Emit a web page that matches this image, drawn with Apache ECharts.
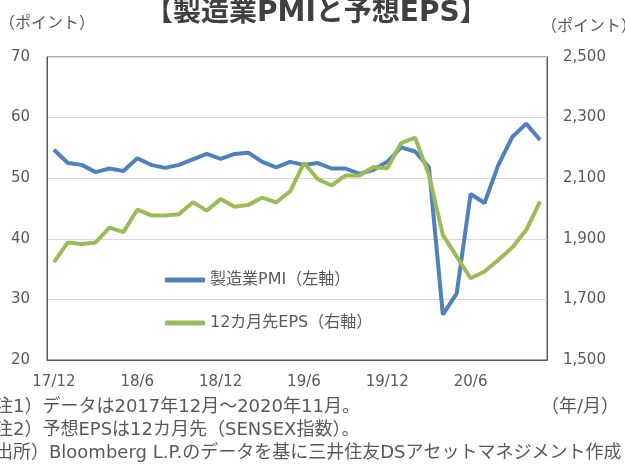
<!DOCTYPE html>
<html lang="ja">
<head>
  <meta charset="UTF-8">
  <title>製造業PMIと予想EPS</title>
  <style>
    html, body { margin: 0; padding: 0; background: #fff; }
    #chart { width: 625px; height: 465px; }
  </style>
</head>
<body>
  <div id="chart"></div>
  <script src="https://cdn.jsdelivr.net/npm/echarts@6/dist/echarts.min.js"></script>
  <script>
    // 月次データ 2017/12～2020/11
    var months = [
      '17/12', '18/1', '18/2', '18/3', '18/4', '18/5', '18/6', '18/7', '18/8', '18/9', '18/10', '18/11',
      '18/12', '19/1', '19/2', '19/3', '19/4', '19/5', '19/6', '19/7', '19/8', '19/9', '19/10', '19/11',
      '19/12', '20/1', '20/2', '20/3', '20/4', '20/5', '20/6', '20/7', '20/8', '20/9', '20/10', '20/11'
    ];
    // 製造業PMI（左軸）
    var pmi = [
      54.7, 52.5, 52.2, 51.0, 51.6, 51.2, 53.3, 52.2, 51.7, 52.2, 53.1, 54.0,
      53.2, 54.0, 54.2, 52.7, 51.8, 52.7, 52.2, 52.5, 51.6, 51.6, 50.7, 51.4,
      52.7, 55.1, 54.4, 51.8, 27.5, 31.0, 47.4, 45.9, 52.2, 56.8, 59.0, 56.3
    ];
    // 12カ月先EPS（右軸）
    var eps = [
      1823, 1888, 1883, 1888, 1937, 1922, 1996, 1977, 1977, 1981, 2021, 1993,
      2031, 2006, 2012, 2036, 2020, 2056, 2150, 2097, 2076, 2109, 2109, 2137,
      2133, 2216, 2234, 2111, 1913, 1841, 1770, 1792, 1830, 1871, 1929, 2023
    ];
    var notes = [
      '注1）データは2017年12月～2020年11月。',
      '注2）予想EPSは12カ月先（SENSEX指数）。',
      '出所）Bloomberg L.P.のデータを基に三井住友DSアセットマネジメント作成'
    ];

    var font = '"DejaVu Sans", "Noto Sans CJK JP"';
    var noteFont = '18px "DejaVu Sans", "Noto Sans CJK JP"';
    var grey = '#595959';

    var option = {
      animation: false,
      textStyle: { fontFamily: font },
      title: {
        text: '【製造業PMIと予想EPS】',
        left: 140,
        top: -5,
        textStyle: { fontSize: 28, fontWeight: 'bold', color: '#404040', fontFamily: font }
      },
      legend: {
        orient: 'vertical',
        left: 160,
        top: 265,
        itemWidth: 40,
        itemHeight: 5,
        itemGap: 23,
        icon: 'roundRect',
        textStyle: { fontSize: 16, lineHeight: 20, color: grey, fontFamily: font }
      },
      grid: {
        left: 47, right: 78, top: 57, bottom: 105,
        containLabel: false,
        outerBoundsMode: 'none',
        show: true, borderColor: grey, borderWidth: 1
      },
      xAxis: {
        type: 'category',
        data: months,
        boundaryGap: true,
        axisLine: { lineStyle: { color: grey } },
        axisTick: { inside: true, length: 5, interval: 5, lineStyle: { color: grey } },
        axisLabel: { interval: 5, margin: 15, fontSize: 15, color: grey, fontFamily: font }
      },
      yAxis: [
        {
          type: 'value', min: 20, max: 70, interval: 10,
          name: '（ポイント）', nameLocation: 'end', nameGap: 25,
          nameTextStyle: { fontSize: 16, color: grey, align: 'center', fontFamily: font },
          axisLine: { show: true, lineStyle: { color: grey } },
          axisLabel: { margin: 17, fontSize: 15, color: grey, fontFamily: font },
          splitLine: { lineStyle: { color: '#d9d9d9' } }
        },
        {
          type: 'value', min: 1500, max: 2500, interval: 200,
          name: '（ポイント）', nameLocation: 'end', nameGap: 22,
          nameTextStyle: { fontSize: 16, color: grey, align: 'left', padding: [0, 0, 0, -6], fontFamily: font },
          axisLine: { show: true, lineStyle: { color: grey } },
          axisLabel: {
            margin: 16, fontSize: 15, color: grey, fontFamily: font,
            formatter: function (v) { return v.toLocaleString('en-US'); }
          },
          splitLine: { show: false }
        }
      ],
      series: [
        {
          name: '製造業PMI（左軸）',
          type: 'line',
          yAxisIndex: 0,
          data: pmi,
          symbol: 'none',
          color: '#4f81bd',
          lineStyle: { width: 4, color: '#4f81bd' }
        },
        {
          name: '12カ月先EPS（右軸）',
          type: 'line',
          yAxisIndex: 1,
          data: eps,
          symbol: 'none',
          color: '#9bbb59',
          lineStyle: { width: 4, color: '#9bbb59' }
        }
      ],
      graphic: [
        { type: 'text', left: -5, top: 398, style: { text: notes[0], font: noteFont, fill: grey } },
        { type: 'text', left: -5, top: 421, style: { text: notes[1], font: noteFont, fill: grey } },
        { type: 'text', left: -5, top: 444, style: { text: notes[2], font: noteFont, fill: grey } },
        { type: 'text', right: 6, top: 398, style: { text: '（年/月）', font: noteFont, fill: grey } }
      ]
    };

    var myChart = echarts.init(document.getElementById('chart'));
    myChart.setOption(option);
  </script>
</body>
</html>
